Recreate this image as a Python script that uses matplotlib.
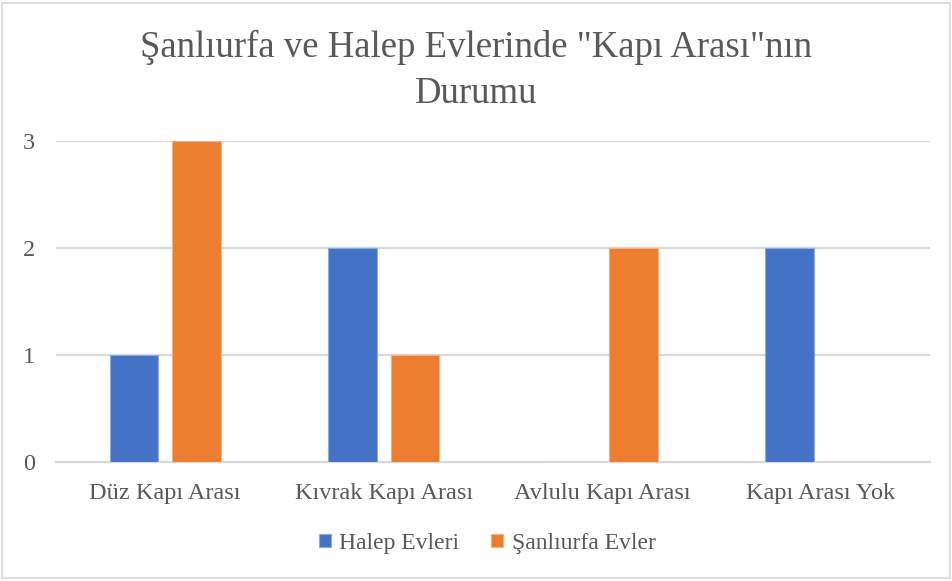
import matplotlib
matplotlib.use("Agg")
import matplotlib.pyplot as plt
import numpy as np
from matplotlib.patches import Rectangle

categories = ["Düz Kapı Arası", "Kıvrak Kapı Arası", "Avlulu Kapı Arası", "Kapı Arası Yok"]
halep = [1, 2, 0, 2]
sanliurfa = [3, 1, 2, 0]
series_names = ["Halep Evleri", "Şanlıurfa Evler"]
title = 'Şanlıurfa ve Halep Evlerinde "Kapı Arası"nın\nDurumu'

blue = "#4472C4"
orange = "#ED7D31"
text_color = "#595959"
grid_color = "#D9D9D9"

plt.rcParams["font.family"] = ["Liberation Serif", "DejaVu Serif"]

fig = plt.figure(figsize=(9.52, 5.81), dpi=100)
ax = fig.add_axes([0.0588, 0.2048, 0.9181, 0.5525])

x = np.arange(len(categories))
w = 0.222
off = 0.143
ax.bar(x - off, halep, w, color=blue, edgecolor="#8FAADC", linewidth=0.8, label=series_names[0], zorder=3)
ax.bar(x + off, sanliurfa, w, color=orange, edgecolor="#F4B183", linewidth=0.8, label=series_names[1], zorder=3)

ax.set_xlim(-0.5, len(categories) - 0.5)
ax.set_ylim(0, 3)
ax.set_yticks([0, 1, 2, 3])
ax.set_xticks(x)
ax.set_xticklabels(categories)
ax.yaxis.grid(True, color=grid_color, linewidth=1.6, zorder=0)
ax.set_axisbelow(True)
for s in ["top", "right", "left"]:
    ax.spines[s].set_visible(False)
ax.spines["bottom"].set_color(grid_color)
ax.spines["bottom"].set_linewidth(1.6)
ax.tick_params(axis="both", length=0, labelsize=17.5, colors=text_color)
ax.tick_params(axis="x", pad=15)
ax.tick_params(axis="y", pad=15)

fig.text(0.5, 0.948, title, ha="center", va="top", fontsize=26.5, color=text_color,
         linespacing=1.42)

leg = fig.legend(*ax.get_legend_handles_labels(), loc="center",
                 bbox_to_anchor=(0.512, 1 - 543 / 581), ncol=2, frameon=False,
                 fontsize=17, handlelength=0.47, handleheight=0.47,
                 handletextpad=0.38, columnspacing=1.35)
for t in leg.get_texts():
    t.set_color(text_color)

fig.add_artist(Rectangle((2 / 952, 3 / 581), 948 / 952, 575 / 581, transform=fig.transFigure,
                         fill=False, edgecolor="#D9D9D9", linewidth=1.2))

fig.savefig("out.png", dpi=100, facecolor="white")
